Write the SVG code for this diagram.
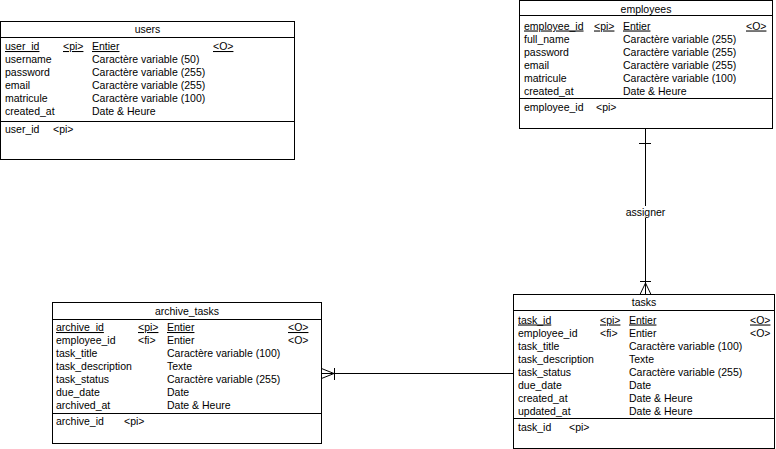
<svg xmlns="http://www.w3.org/2000/svg" width="776" height="449" viewBox="0 0 776 449">
<style>
rect.box{fill:#fff;stroke:#000;stroke-width:1}
line.sep,.conn line,.conn path{stroke:#000;stroke-width:1;fill:none}
text{font-family:"Liberation Sans",Arial,sans-serif;font-size:10.5px;fill:#000}
text.h{text-anchor:middle}
text.u{text-decoration:underline}
</style>
<rect x="0" y="0" width="776" height="449" fill="#fff"/>
<g id="connectors" class="conn">
<line x1="645.5" y1="128.5" x2="645.5" y2="294.5"/>
<line x1="639" y1="143.5" x2="651" y2="143.5"/>
<line x1="640" y1="281.5" x2="651" y2="281.5"/>
<path d="M640,294.5 L645.5,283 L651,294.5"/>
<rect x="626" y="206" width="39" height="12" fill="#fff"/>
<text x="645.5" y="216" class="h">assigner</text>
<line x1="321.5" y1="373.5" x2="513.5" y2="373.5"/>
<line x1="334.5" y1="368" x2="334.5" y2="380"/>
<path d="M321.5,368.5 L334,373.5 L321.5,378.5"/>
</g>
<g id="users">
<rect class="box" x="0.5" y="21.5" width="294" height="138"/>
<line class="sep" x1="0.5" y1="37.5" x2="294.5" y2="37.5"/>
<line class="sep" x1="0.5" y1="121.5" x2="294.5" y2="121.5"/>
<text x="147.5" y="33" class="h">users</text>
<text x="5" y="50" class="u">user_id</text><text x="63" y="50" class="u">&lt;pi&gt;</text><text x="92" y="50" class="u">Entier</text><text x="213" y="50" class="u">&lt;O&gt;</text>
<text x="5" y="63">username</text><text x="92" y="63">Caractère variable (50)</text>
<text x="5" y="76">password</text><text x="92" y="76">Caractère variable (255)</text>
<text x="5" y="89">email</text><text x="92" y="89">Caractère variable (255)</text>
<text x="5" y="102">matricule</text><text x="92" y="102">Caractère variable (100)</text>
<text x="5" y="115">created_at</text><text x="92" y="115">Date &amp; Heure</text>
<text x="5" y="133">user_id</text><text x="53" y="133">&lt;pi&gt;</text>
</g>
<g id="employees">
<rect class="box" x="519.5" y="0.5" width="253" height="128"/>
<line class="sep" x1="519.5" y1="15.5" x2="772.5" y2="15.5"/>
<line class="sep" x1="519.5" y1="98.5" x2="772.5" y2="98.5"/>
<text x="646" y="12.5" class="h">employees</text>
<text x="524" y="29.5" class="u">employee_id</text><text x="594" y="29.5" class="u">&lt;pi&gt;</text><text x="623" y="29.5" class="u">Entier</text><text x="746" y="29.5" class="u">&lt;O&gt;</text>
<text x="524" y="42.5">full_name</text><text x="623" y="42.5">Caractère variable (255)</text>
<text x="524" y="55.5">password</text><text x="623" y="55.5">Caractère variable (255)</text>
<text x="524" y="68.5">email</text><text x="623" y="68.5">Caractère variable (255)</text>
<text x="524" y="81.5">matricule</text><text x="623" y="81.5">Caractère variable (100)</text>
<text x="524" y="94.5">created_at</text><text x="623" y="94.5">Date &amp; Heure</text>
<text x="524" y="111">employee_id</text><text x="596" y="111">&lt;pi&gt;</text>
</g>
<g id="archive_tasks">
<rect class="box" x="52.5" y="302.5" width="269" height="141"/>
<line class="sep" x1="52.5" y1="319.5" x2="321.5" y2="319.5"/>
<line class="sep" x1="52.5" y1="413.5" x2="321.5" y2="413.5"/>
<text x="187" y="314.5" class="h">archive_tasks</text>
<text x="56" y="331" class="u">archive_id</text><text x="138" y="331" class="u">&lt;pi&gt;</text><text x="167" y="331" class="u">Entier</text><text x="288" y="331" class="u">&lt;O&gt;</text>
<text x="56" y="344">employee_id</text><text x="138" y="344">&lt;fi&gt;</text><text x="167" y="344">Entier</text><text x="288" y="344">&lt;O&gt;</text>
<text x="56" y="357">task_title</text><text x="167" y="357">Caractère variable (100)</text>
<text x="56" y="370">task_description</text><text x="167" y="370">Texte</text>
<text x="56" y="383">task_status</text><text x="167" y="383">Caractère variable (255)</text>
<text x="56" y="396">due_date</text><text x="167" y="396">Date</text>
<text x="56" y="409">archived_at</text><text x="167" y="409">Date &amp; Heure</text>
<text x="56" y="425">archive_id</text><text x="124" y="425">&lt;pi&gt;</text>
</g>
<g id="tasks">
<rect class="box" x="513.5" y="294.5" width="261" height="154"/>
<line class="sep" x1="513.5" y1="310.5" x2="774.5" y2="310.5"/>
<line class="sep" x1="513.5" y1="418.5" x2="774.5" y2="418.5"/>
<text x="644" y="306" class="h">tasks</text>
<text x="518" y="323.5" class="u">task_id</text><text x="600" y="323.5" class="u">&lt;pi&gt;</text><text x="629" y="323.5" class="u">Entier</text><text x="750" y="323.5" class="u">&lt;O&gt;</text>
<text x="518" y="336.5">employee_id</text><text x="600" y="336.5">&lt;fi&gt;</text><text x="629" y="336.5">Entier</text><text x="750" y="336.5">&lt;O&gt;</text>
<text x="518" y="349.5">task_title</text><text x="629" y="349.5">Caractère variable (100)</text>
<text x="518" y="362.5">task_description</text><text x="629" y="362.5">Texte</text>
<text x="518" y="375.5">task_status</text><text x="629" y="375.5">Caractère variable (255)</text>
<text x="518" y="388.5">due_date</text><text x="629" y="388.5">Date</text>
<text x="518" y="401.5">created_at</text><text x="629" y="401.5">Date &amp; Heure</text>
<text x="518" y="414.5">updated_at</text><text x="629" y="414.5">Date &amp; Heure</text>
<text x="518" y="431">task_id</text><text x="569" y="431">&lt;pi&gt;</text>
</g>
</svg>
